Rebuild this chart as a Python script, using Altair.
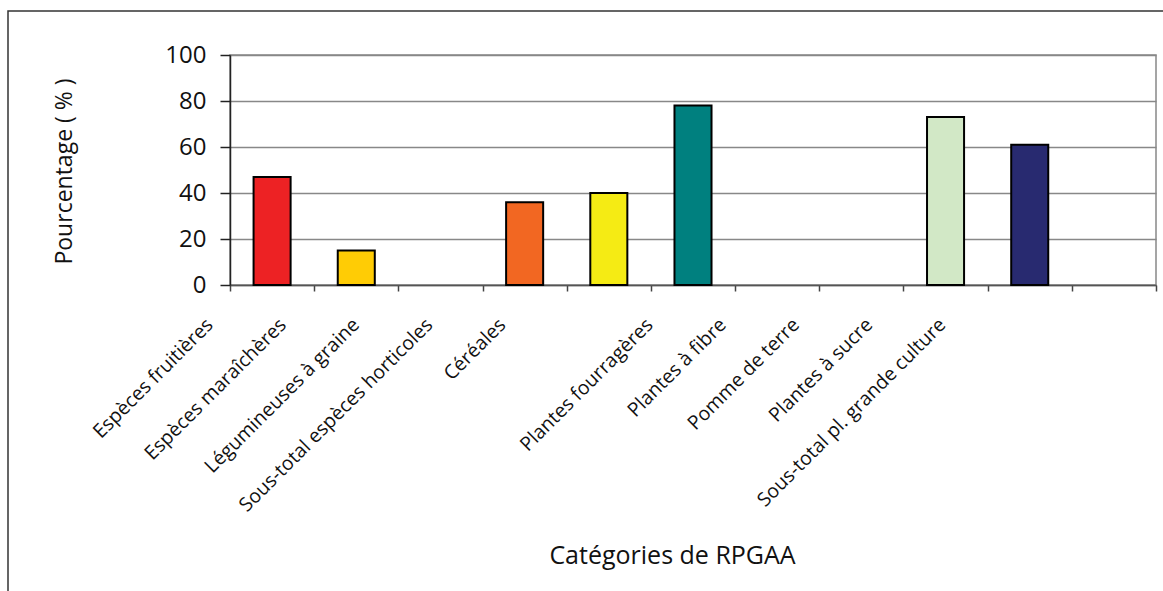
import altair as alt
import pandas as pd

# Catégories de ressources phytogénétiques (RPGAA) et pourcentages
categories = [
    "Espèces fruitières",
    "Espèces maraîchères",
    "Légumineuses à graine",
    "Sous-total espèces horticoles",
    "Céréales",
    "Plantes fourragères",
    "Plantes à fibre",
    "Pomme de terre",
    "Plantes à sucre",
    "Sous-total pl. grande culture",
    " ",
]
values = [47, 15, None, 36, 40, 78, None, None, 73, 61, None]
colors = [
    "#ED2224", "#FFCC05", "#FFFFFF", "#F26722", "#F5EB14", "#00807F",
    "#FFFFFF", "#FFFFFF", "#D2E8C6", "#282A70", "#FFFFFF",
]

df = pd.DataFrame({"categorie": categories, "pourcentage": values})
df = df.dropna()

FONT = "Open Sans"

x_enc = alt.X(
    "categorie:N",
    sort=categories,
    scale=alt.Scale(domain=categories, paddingInner=0, paddingOuter=0),
    axis=alt.Axis(
        title="Catégories de RPGAA",
        titleFont=FONT,
        titleFontSize=25,
        titleFontWeight="normal",
        titleColor="#111",
        titleX=442,
        titleY=270,
        titleAlign="center",
        titleBaseline="middle",
        labelFont=FONT,
        labelFontSize=19.5,
        labelColor="#111",
        labelAngle=315,
        labelAlign="right",
        labelBaseline="top",
        labelPadding=24,
        labelLimit=600,
        labelOverlap=False,
        labelBound=False,
        labelFlush=False,
        labelOffset={"expr": "(datum.index < 0.45 ? -69 : -50) - 11 * (round(datum.index * 10) % 5)"},
        tickBand="extent",
        tickSize=6,
        tickColor="#444",
        tickWidth=1.5,
        domainColor="#555",
        domainWidth=1.5,
        grid=False,
    ),
)

y_enc = alt.Y(
    "pourcentage:Q",
    scale=alt.Scale(domain=[0, 100], nice=False),
    axis=alt.Axis(
        title="Pourcentage ( % )",
        titleFont=FONT,
        titleFontSize=23,
        titleFontWeight="normal",
        titleColor="#111",
        titleAngle=270,
        titleX=-166,
        titleY=116,
        titleAlign="center",
        titleBaseline="middle",
        values=[0, 20, 40, 60, 80, 100],
        labelFont=FONT,
        labelFontSize=24,
        labelColor="#111",
        labelPadding=14,
        tickSize=10,
        tickColor="#222",
        tickWidth=1.5,
        domainColor="#222",
        domainWidth=1.5,
        gridColor="#888",
        gridWidth=1.5,
        gridOpacity=1,
    ),
)

bars = alt.Chart(df).mark_bar(
    width={"band": 0.44}, stroke="black", strokeWidth=2
).encode(
    x=x_enc,
    y=y_enc,
    color=alt.Color(
        "categorie:N",
        scale=alt.Scale(domain=categories, range=colors),
        legend=None,
    ),
)

# Cadre extérieur du graphique
frame = alt.Chart(pd.DataFrame({"k": [0]})).mark_rect(
    fillOpacity=0, stroke="#333", strokeWidth=1.5
).encode(
    x=alt.value(-222),
    x2=alt.value(960),
    y=alt.value(-44),
    y2=alt.value(600),
)

chart = alt.layer(frame, bars).properties(
    width=926,
    height=230,
    padding={"left": 230, "top": 55, "right": 7, "bottom": 306},
    autosize=alt.AutoSizeParams(type="none"),
    background="white",
).configure_view(
    stroke="#888", strokeWidth=1.5
)

chart.save("out.html", embed_options={"renderer": "svg", "actions": False})
